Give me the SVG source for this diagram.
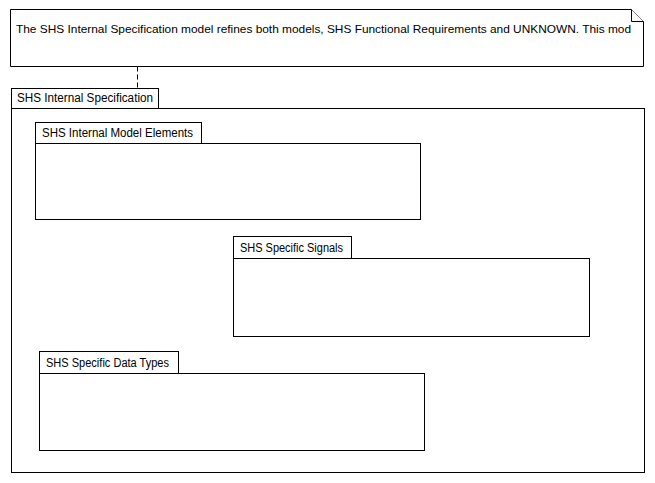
<svg xmlns="http://www.w3.org/2000/svg" width="655" height="483" viewBox="0 0 655 483">
<style>
.b{fill:#fff;stroke:#000;stroke-width:1}
.t{font-family:"Liberation Sans",Arial,sans-serif;font-size:12px;fill:#000}
.n{font-family:"Liberation Sans",Arial,sans-serif;font-size:11.5px;fill:#000}
</style>
<rect width="655" height="483" fill="#fff"/>
<g id="note">
<path class="b" d="M10.5 9.5H631.5L643.5 21.5V66.5H10.5Z"/>
<path class="b" d="M631.5 9.5V21.5H643.5" fill="none"/>
<text class="n" x="16" y="33" textLength="615" lengthAdjust="spacingAndGlyphs">The SHS Internal Specification model refines both models, SHS Functional Requirements and UNKNOWN. This mod</text>
</g>
<g id="connectors">
<line x1="137.5" y1="66.5" x2="137.5" y2="88.5" stroke="#000" stroke-dasharray="5,3"/>
</g>
<g id="pkg-main">
<rect class="b" x="11.5" y="88.5" width="147" height="20"/>
<rect class="b" x="11.5" y="108.5" width="633" height="364"/>
<text class="t" x="17" y="102" textLength="136" lengthAdjust="spacingAndGlyphs">SHS Internal Specification</text>
</g>
<g id="pkg-elements">
<rect class="b" x="35.5" y="122.5" width="166" height="21"/>
<rect class="b" x="35.5" y="143.5" width="385" height="76"/>
<text class="t" x="42" y="137" textLength="151" lengthAdjust="spacingAndGlyphs">SHS Internal Model Elements</text>
</g>
<g id="pkg-signals">
<rect class="b" x="233.5" y="236.5" width="118" height="22"/>
<rect class="b" x="233.5" y="258.5" width="356" height="78"/>
<text class="t" x="240" y="252" textLength="103" lengthAdjust="spacingAndGlyphs">SHS Specific Signals</text>
</g>
<g id="pkg-types">
<rect class="b" x="39.5" y="351.5" width="139" height="22"/>
<rect class="b" x="39.5" y="373.5" width="385" height="77"/>
<text class="t" x="46" y="367" textLength="123" lengthAdjust="spacingAndGlyphs">SHS Specific Data Types</text>
</g>
</svg>
